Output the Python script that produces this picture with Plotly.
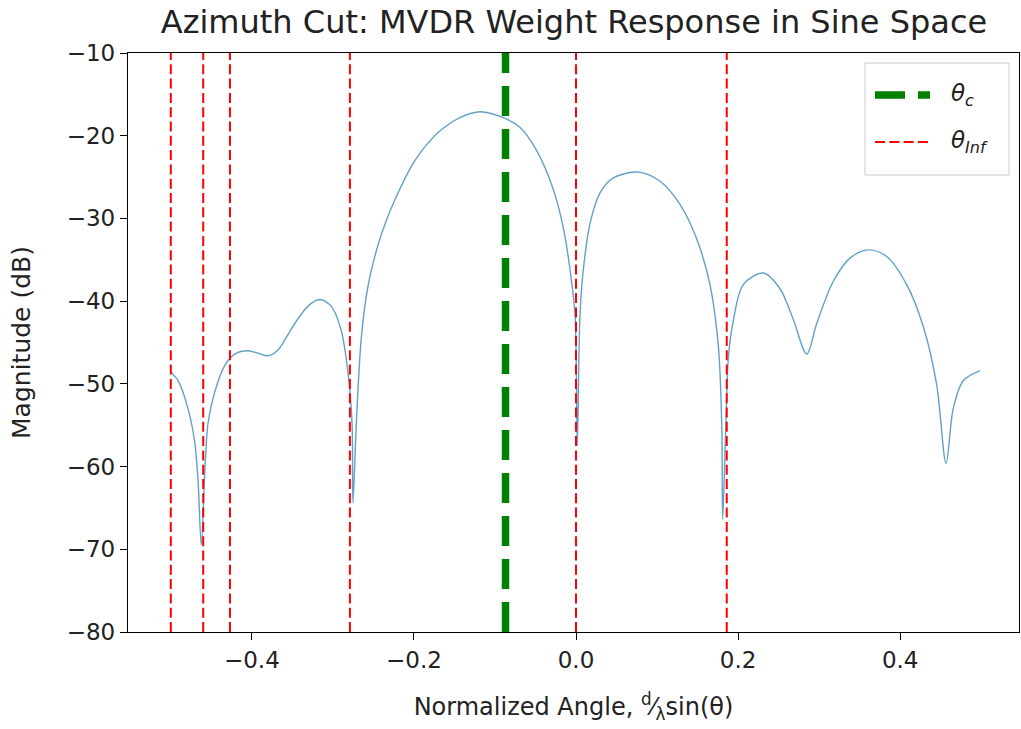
import plotly.graph_objects as go

# Azimuth cut of the MVDR weight response, sampled in sine space (d/lambda * sin(theta))
u_sine = [
    -0.500, -0.491, -0.479, -0.4705, -0.4664, -0.4624, -0.4574, -0.454, -0.4458,
    -0.4335, -0.4212, -0.4047, -0.392, -0.380, -0.3677, -0.357, -0.347, -0.3307,
    -0.3163, -0.302, -0.2896, -0.2813, -0.2764, -0.2752, -0.271, -0.265, -0.2567,
    -0.2443, -0.2343, -0.2237, -0.2032, -0.1925, -0.1826, -0.1678, -0.1431, -0.1185,
    -0.0876, -0.069, -0.0485, -0.028, -0.0157, -0.0074, -0.0012, 0.0016, 0.0049,
    0.009, 0.0173, 0.0296, 0.046, 0.0769, 0.1037, 0.1283, 0.149, 0.1653, 0.1756,
    0.1798, 0.181, 0.185, 0.188, 0.194, 0.2064, 0.2311, 0.2517, 0.268, 0.2847,
    0.297, 0.3175, 0.338, 0.3607, 0.3834, 0.408, 0.4286, 0.445, 0.4566, 0.4656,
    0.478, 0.4985,
]
magnitude_db = [
    -48.6, -49.6, -52.9, -57.0, -61.6, -69.5, -59.3, -54.7, -51.0,
    -47.8, -46.4, -46.0, -46.3, -46.6, -45.9, -44.3, -42.7, -40.6,
    -39.8, -40.6, -43.6, -48.7, -54.7, -64.4, -54.7, -44.5, -38.2,
    -33.2, -30.3, -27.8, -23.7, -22.1, -20.9, -19.4, -17.8, -17.1,
    -17.9, -19.0, -21.8, -26.5, -31.1, -36.2, -41.7, -57.5, -41.7,
    -36.2, -30.6, -26.9, -25.1, -24.4, -25.5, -28.3, -32.5, -38.0, -45.4,
    -54.7, -66.4, -54.7, -46.8, -42.4, -38.0, -36.6, -38.5, -42.2, -46.4,
    -42.7, -37.6, -34.8, -33.8, -34.6, -38.0, -43.1, -50.1, -59.6, -52.9,
    -49.6, -48.4,
]

# Steering direction and interferer directions (sine space)
theta_c = -0.087
theta_inf = [-0.500, -0.460, -0.427, -0.279, 0.000, 0.186]

x_ticks = [-0.4, -0.2, 0.0, 0.2, 0.4]
y_ticks = [-10, -20, -30, -40, -50, -60, -70, -80]

W, H = 1021, 729
L, R, T, B = 128, 2, 53, 97
FONT = "DejaVu Sans"


def px_x(p):
    return (p - L) / (W - L - R)


def px_y(p):
    return (H - B - p) / (H - T - B)


fig = go.Figure()

fig.add_trace(go.Scatter(
    x=u_sine, y=magnitude_db, mode="lines",
    line=dict(color="rgba(31,119,180,0.7)", width=1.4, shape="spline", smoothing=0.9),
    showlegend=False, hoverinfo="skip",
))

for v in theta_inf:
    fig.add_shape(type="line", xref="x", yref="y", x0=v, x1=v, y0=-80, y1=-10,
                  line=dict(color="#ff0000", width=2, dash="10px,4.3px"))

fig.add_shape(type="line", xref="x", yref="y", x0=theta_c, x1=theta_c, y0=-80, y1=-10,
              line=dict(color="#008000", width=7.5, dash="30px,13px"))

# Legend box
fig.add_shape(type="rect", xref="paper", yref="paper",
              x0=px_x(865), x1=px_x(1009), y0=px_y(175), y1=px_y(63),
              line=dict(color="#cccccc", width=1), fillcolor="rgba(255,255,255,0.85)")
fig.add_shape(type="line", xref="paper", yref="paper",
              x0=px_x(875), x1=px_x(930), y0=px_y(95), y1=px_y(95),
              line=dict(color="#008000", width=7.5, dash="30px,13px"))
fig.add_shape(type="line", xref="paper", yref="paper",
              x0=px_x(875), x1=px_x(930), y0=px_y(142), y1=px_y(142),
              line=dict(color="#ff0000", width=2, dash="10px,4.3px"))
fig.add_annotation(xref="paper", yref="paper", x=px_x(949), y=px_y(95),
                   xanchor="left", yanchor="middle", showarrow=False,
                   text="<i>θ</i><sub><i>c</i></sub>",
                   font=dict(family=FONT, size=23, color="#222222"))
fig.add_annotation(xref="paper", yref="paper", x=px_x(949), y=px_y(142),
                   xanchor="left", yanchor="middle", showarrow=False,
                   text="<i>θ</i><sub><i>Inf</i></sub>",
                   font=dict(family=FONT, size=23, color="#222222"))

axis_common = dict(
    showline=True, linecolor="black", linewidth=1.3, mirror=True,
    ticks="outside", ticklen=7, tickwidth=1.3, tickcolor="black",
    showgrid=False, zeroline=False,
    tickfont=dict(family=FONT, size=23, color="#222222"),
)

fig.update_xaxes(
    range=[-0.5528, 0.5466], tickvals=x_ticks, tickformat=".1f",
    title=dict(text="Normalized Angle, <sup>d</sup>⁄<sub>λ</sub>sin(θ)",
               font=dict(family=FONT, size=24, color="#222222"), standoff=26),
    **axis_common,
)
fig.update_yaxes(
    range=[-80, -10], tickvals=y_ticks,
    title=dict(text="Magnitude (dB)",
               font=dict(family=FONT, size=25, color="#222222"), standoff=28),
    **axis_common,
)

fig.update_layout(
    width=W, height=H,
    margin=dict(l=L, r=R, t=T, b=B),
    paper_bgcolor="white", plot_bgcolor="white",
    title=dict(text="Azimuth Cut: MVDR Weight Response in Sine Space",
               x=px_x(574) * (W - L - R) / W + L / W, xanchor="center",
               y=1 - 22 / H, yanchor="middle",
               font=dict(family=FONT, size=32, color="#222222")),
)

fig.write_html("out.html")
